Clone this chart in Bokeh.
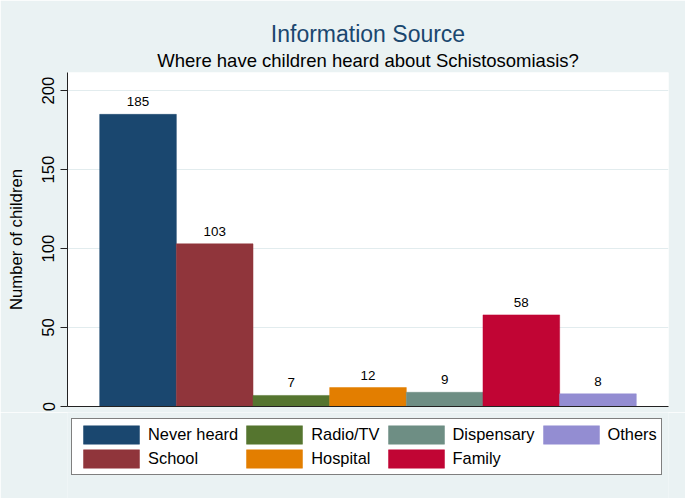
from bokeh.plotting import figure
from bokeh.models import ColumnDataSource, Range1d, FixedTicker, Title, Legend, LegendItem, Grid
from bokeh.layouts import column
from bokeh.core.properties import value
from bokeh.embed import file_html
from bokeh.resources import INLINE

categories = ["Never heard", "School", "Radio/TV", "Hospital", "Dispensary", "Family", "Others"]
counts = [185, 103, 7, 12, 9, 58, 8]
colors = ["#1A476F", "#90353B", "#55752F", "#E37E00", "#6E8E84", "#C10534", "#938DD2"]
y_ticks = [0, 50, 100, 150, 200]

FONT = "Liberation Sans"
BG = "#EAF2F3"

positions = list(range(1, len(categories) + 1))
src = ColumnDataSource(dict(x=positions, count=counts, cat=categories, color=colors,
                            label=[str(c) for c in counts]))

# ---------------- main chart ----------------
p = figure(width=685, height=412, output_backend="svg", toolbar_location=None,
           x_range=Range1d(0.08, 7.92), y_range=Range1d(0, 211.5),
           min_border_left=67, min_border_right=17, min_border_top=72, min_border_bottom=6)
p.background_fill_color = "white"
p.border_fill_color = BG
p.outline_line_color = None

p.add_layout(Title(text="Where have children heard about Schistosomiasis?", align="center",
                   text_font=FONT, text_font_size="18.5px", text_font_style="normal",
                   text_color="black", standoff=3), "above")
p.add_layout(Title(text="Information Source", align="center",
                   text_font=FONT, text_font_size="23px", text_font_style="normal",
                   text_color="#1A476F", standoff=0), "above")

p.vbar(x="x", top="count", width=1.0, source=src, fill_color="color",
       line_color="color", line_width=0.5)

p.text(x="x", y="count", text="label", source=src, text_align="center",
       text_baseline="bottom", y_offset=-8, text_font=value(FONT),
       text_font_size="13.4px", text_color="black")

ya = p.yaxis[0]
ya.ticker = FixedTicker(ticks=y_ticks)
ya.axis_label = "Number of children"
ya.axis_label_text_font = FONT
ya.axis_label_text_font_size = "16.7px"
ya.axis_label_text_font_style = "normal"
ya.axis_label_text_color = "black"
ya.axis_label_standoff = 14
ya.major_label_text_font = FONT
ya.major_label_text_font_size = "16.7px"
ya.major_label_text_color = "black"
ya.major_label_orientation = "vertical"
ya.major_label_standoff = 6
ya.major_tick_out = 7
ya.major_tick_in = 0
ya.minor_tick_line_color = None
ya.axis_line_color = "#222222"
ya.major_tick_line_color = "#222222"

xa = p.xaxis[0]
xa.ticker = FixedTicker(ticks=[])
xa.major_tick_line_color = None
xa.minor_tick_line_color = None
xa.major_tick_out = 0
xa.major_tick_in = 0
xa.major_label_text_font_size = "0px"
xa.major_label_standoff = 0
xa.axis_line_color = "#222222"

p.xgrid.grid_line_color = None
p.ygrid.grid_line_color = "#E2ECEE"
p.ygrid.grid_line_width = 1.2

# ---------------- legend panel ----------------
p2 = figure(width=685, height=86, output_backend="svg", toolbar_location=None,
            x_range=Range1d(1000, 1001), y_range=Range1d(1000, 1001),
            x_axis_location=None, y_axis_location=None, min_border=0)
p2.background_fill_color = BG
p2.border_fill_color = BG
p2.outline_line_color = None
for r in p2.center:
    if isinstance(r, Grid):
        r.visible = False

swatches = p2.vbar(x="x", top="count", width=1.0, source=src, fill_color="color",
                   line_color="color", line_width=0.5)

items = [LegendItem(label=categories[i], renderers=[swatches], index=i)
         for i in range(len(categories))]
leg = Legend(items=items, orientation="vertical", nrows=2, location=(4, 23),
             glyph_width=70, glyph_height=23, label_height=18, label_standoff=2,
             spacing=1, padding=4, margin=0,
             label_text_font=FONT, label_text_font_size="16.4px", label_text_color="black",
             border_line_color="black", border_line_width=1,
             background_fill_color="white", background_fill_alpha=1.0)
p2.add_layout(leg, "center")

layout = column(p, p2, spacing=0)

open("out.html", "w").write(file_html(layout, INLINE))
